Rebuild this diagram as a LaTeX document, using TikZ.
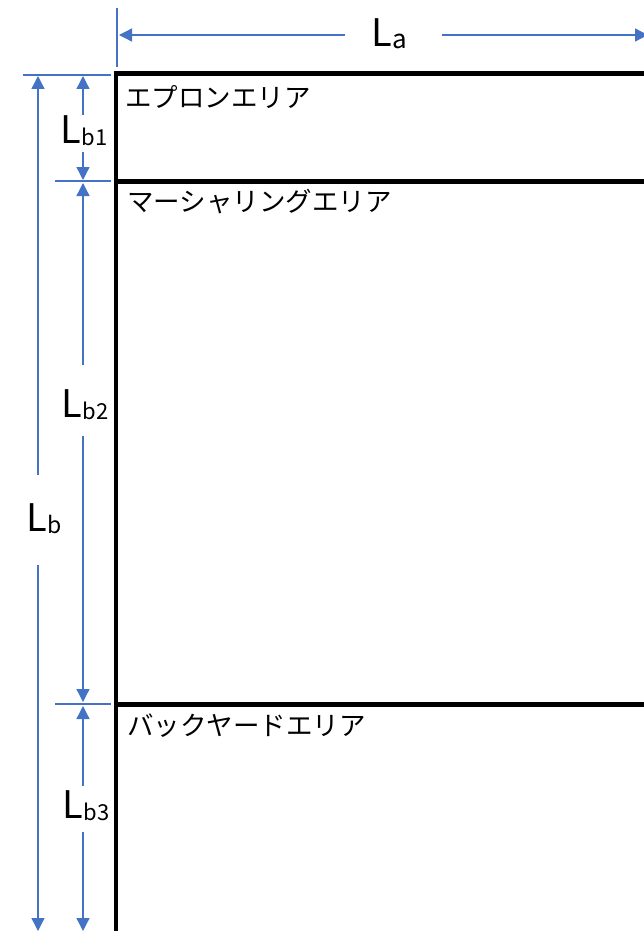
\documentclass[tikz,border=0pt]{standalone}
\usepackage{fontspec}
\setmainfont{Noto Sans CJK JP}
\usetikzlibrary{arrows.meta}
\definecolor{dimblue}{HTML}{4472C4}
\newcommand{\sublab}[2]{L\raisebox{-2pt}{\fontsize{#2}{#2}\selectfont #1}}
\begin{document}
\begin{tikzpicture}[x=1pt,y=-1pt,
  dimline/.style={draw=dimblue,line width=1.3pt},
  dimarrow/.style={dimline,-{Triangle[length=13pt,width=13pt]}},
  wall/.style={draw=black,line width=4.5pt},
  dimlabel/.style={inner sep=0pt,font=\fontsize{38}{38}\selectfont},
  area/.style={anchor=west,inner sep=0pt,font=\fontsize{26.5}{26.5}\selectfont}]
\useasboundingbox (0,0) rectangle (644,931);
% walls
\draw[wall] (116,935) -- (116,73.5) -- (648,73.5);
\draw[wall] (116,181.5) -- (648,181.5);
\draw[wall] (116,704.5) -- (648,704.5);
% area labels
\node[area] (apron) at (125,97) {エプロンエリア};
\node[area] (marsh) at (127,202) {マーシャリングエリア};
\node[area] (back) at (127,726) {バックヤードエリア};
% extension lines
\draw[dimline] (117,8) -- (117,67);
\draw[dimline] (23,75) -- (111,75);
\draw[dimline] (55,181) -- (111,181);
\draw[dimline] (55,704) -- (111,704);
% La
\coordinate (laL) at (119,35);
\coordinate (laR) at (648,35);
\coordinate (laG1) at (345,35);
\coordinate (laG2) at (442,35);
\node[dimlabel] (la) at (389,34) {\sublab{a}{26}};
\draw[dimarrow] (laG1) -- (laL);
\draw[dimarrow] (laG2) -- (laR);
% Lb
\coordinate (lbT) at (38,76);
\coordinate (lbB) at (38,931);
\coordinate (lbG1) at (38,475);
\coordinate (lbG2) at (38,565);
\node[dimlabel] (lb) at (44,519) {\sublab{b}{23}};
\draw[dimarrow] (lbG1) -- (lbT);
\draw[dimarrow] (lbG2) -- (lbB);
% Lb1
\coordinate (b1T) at (83,76);
\coordinate (b1B) at (83,180);
\coordinate (b1G1) at (83,115);
\coordinate (b1G2) at (83,152);
\node[dimlabel] (lb1) at (84,131) {\sublab{b1}{22}};
\draw[dimarrow] (b1G1) -- (b1T);
\draw[dimarrow] (b1G2) -- (b1B);
% Lb2
\coordinate (b2T) at (83,183);
\coordinate (b2B) at (83,702);
\coordinate (b2G1) at (83,365);
\coordinate (b2G2) at (83,436);
\node[dimlabel] (lb2) at (85,405) {\sublab{b2}{22}};
\draw[dimarrow] (b2G1) -- (b2T);
\draw[dimarrow] (b2G2) -- (b2B);
% Lb3
\coordinate (b3T) at (83,706);
\coordinate (b3B) at (83,931);
\coordinate (b3G1) at (83,786);
\coordinate (b3G2) at (83,832);
\node[dimlabel] (lb3) at (86,806) {\sublab{b3}{22}};
\draw[dimarrow] (b3G1) -- (b3T);
\draw[dimarrow] (b3G2) -- (b3B);
\end{tikzpicture}
\end{document}
